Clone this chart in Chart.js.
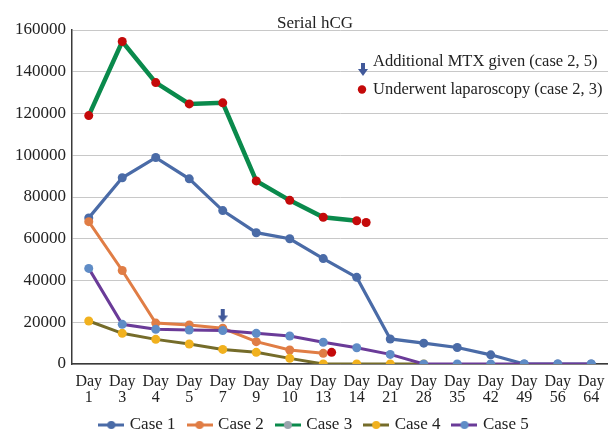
<!DOCTYPE html>
<html>
<head>
<meta charset="utf-8">
<script src="https://cdn.jsdelivr.net/npm/chart.js@4/dist/chart.umd.min.js"></script>
<style>
  html, body { margin: 0; padding: 0; background: #ffffff; }
  #c { display: block; }
</style>
</head>
<body>
<canvas id="c" width="608" height="432"></canvas>
<script>
// ---- data ----
const days = ["1","3","4","5","7","9","10","13","14","21","28","35","42","49","56","64"];
const case1 = [70000, 89200, 98900, 88700, 73500, 62900, 60000, 50500, 41500, 12000, 10000, 7900, 4400, 0, 0, 0];
const case2 = [68200, 44800, 19600, 18700, 17100, 10700, 6700, 5100, null, null, null, null, null, null, null, null];
const case3 = [119000, 154500, 134800, 124600, 125100, 87700, 78400, 70300, 68600, null, null, null, null, null, null, null];
const case4 = [20600, 14700, 11800, 9600, 7000, 5600, 2700, 0, 0, 0, 0, null, null, null, null, null];
const case5 = [45800, 19000, 16600, 16300, 16000, 14700, 13400, 10400, 7800, 4600, 0, 0, 0, 0, 0, 0];
const seriesNames = ["Case 1", "Case 2", "Case 3", "Case 4", "Case 5"];
// event markers (x = category index position)
const mtxX = [4];
const mtxY = [23000];
const lapX = [7.25, 8.28];
const lapY = [5600, 67800];
const yTicks = [0, 20000, 40000, 60000, 80000, 100000, 120000, 140000, 160000];
const titleText = "Serial hCG";
const noteMtx = "Additional MTX given (case 2, 5)";
const noteLap = "Underwent laparoscopy (case 2, 3)";

// ---- styles ----
const FONT = "'Liberation Serif', 'Times New Roman', serif";
const lineColors = ["#4a6ba7", "#e07d45", "#0a8a4c", "#756c2a", "#6a3b98"];
const markColors = ["#4a6ba7", "#e07d45", "#c40a0a", "#f1b11e", "#5f8cc6"];
const legendMarks = ["#4a6ba7", "#e07d45", "#9aa3ad", "#f1b11e", "#5f8cc6"];
const lineWidths = [3.2, 3, 4.5, 3, 3];
const arrowColor = "#41599a";
const redDot = "#c40a0a";

function makeArrow() {
  const c = document.createElement('canvas');
  c.width = 10; c.height = 13;
  const g = c.getContext('2d');
  g.fillStyle = arrowColor;
  g.fillRect(3, 0, 4, 7);
  g.beginPath(); g.moveTo(0, 6); g.lineTo(10, 6); g.lineTo(5, 13); g.closePath(); g.fill();
  return c;
}
const arrowImg = makeArrow();

function makeLegendIcon(lineCol, markCol) {
  const c = document.createElement('canvas');
  c.width = 26; c.height = 12;
  const g = c.getContext('2d');
  g.strokeStyle = lineCol; g.lineWidth = 3;
  g.beginPath(); g.moveTo(0, 6); g.lineTo(26, 6); g.stroke();
  g.fillStyle = markCol;
  g.beginPath(); g.arc(13, 6, 4, 0, Math.PI * 2); g.fill();
  return c;
}
const legendIcons = seriesNames.map((n, i) => makeLegendIcon(lineColors[i], legendMarks[i]));

const caseData = [case1, case2, case3, case4, case5];
const datasets = caseData.map((d, i) => ({
  label: seriesNames[i],
  data: d,
  borderColor: lineColors[i],
  backgroundColor: markColors[i],
  pointBackgroundColor: markColors[i],
  pointBorderColor: markColors[i],
  borderWidth: lineWidths[i],
  pointRadius: 4.5,
  pointBorderWidth: 0,
  tension: 0,
  spanGaps: false,
  order: 10 - i,
  xAxisID: 'x',
  yAxisID: 'y'
}));
datasets.push({
  type: 'scatter',
  label: 'Additional MTX given',
  data: mtxX.map((x, i) => ({x: x, y: mtxY[i]})),
  pointStyle: arrowImg,
  pointRadius: 6,
  showLine: false,
  xAxisID: 'x2',
  yAxisID: 'y',
  order: 0
});
datasets.push({
  type: 'scatter',
  label: 'Underwent laparoscopy',
  data: lapX.map((x, i) => ({x: x, y: lapY[i]})),
  pointBackgroundColor: redDot,
  pointBorderColor: redDot,
  backgroundColor: redDot,
  pointRadius: 4.5,
  pointBorderWidth: 0,
  showLine: false,
  xAxisID: 'x2',
  yAxisID: 'y',
  order: 0
});

const notesPlugin = {
  id: 'notes',
  afterLayout(chart) {
    // let the y tick labels use the space left of the axis box
    chart.scales.y.left = 0;
  },
  afterDraw(chart) {
    const ctx = chart.ctx;
    ctx.save();
    ctx.font = "16.5px " + FONT;
    ctx.fillStyle = "#222222";
    ctx.textBaseline = 'alphabetic';
    ctx.textAlign = 'left';
    ctx.drawImage(arrowImg, 358, 63);
    ctx.fillText(noteMtx, 373, 66);
    ctx.fillStyle = redDot;
    ctx.beginPath(); ctx.arc(362, 89.5, 4.2, 0, Math.PI * 2); ctx.fill();
    ctx.fillStyle = "#222222";
    ctx.fillText(noteLap, 373, 94);
    ctx.restore();
  }
};

new Chart(document.getElementById('c'), {
  type: 'line',
  data: {
    labels: days.map(d => ["Day", d]),
    datasets: datasets
  },
  options: {
    responsive: false,
    animation: false,
    layout: { autoPadding: false, padding: { left: 22, right: 0, top: 0, bottom: -11.5 } },
    plugins: {
      title: {
        display: true,
        text: titleText,
        color: '#222222',
        font: { family: FONT, size: 17, weight: 'normal' },
        padding: { top: 13, bottom: -3.4 }
      },
      legend: {
        display: true,
        position: 'bottom',
        labels: {
          usePointStyle: true,
          pointStyleWidth: 20,
          padding: 14,
          color: '#222222',
          font: { family: FONT, size: 17 },
          generateLabels(chart) {
            return seriesNames.map((n, i) => ({
              text: n,
              pointStyle: legendIcons[i],
              fillStyle: markColors[i],
              strokeStyle: lineColors[i],
              lineWidth: 0,
              hidden: false,
              datasetIndex: i,
              fontColor: '#222222'
            }));
          }
        }
      },
      tooltip: { enabled: false }
    },
    scales: {
      x: {
        type: 'category',
        offset: true,
        grid: { display: false, drawTicks: false },
        border: { display: true, color: '#3a3a3a', width: 1.5 },
        ticks: {
          color: '#222222',
          font: { family: FONT, size: 16, lineHeight: 1.0 },
          padding: 10,
          maxRotation: 0,
          autoSkip: false
        },
        afterFit(scale) { scale.height = 38.5; scale.paddingLeft = 0; scale.paddingRight = 0; }
      },
      x2: {
        type: 'linear',
        display: false,
        min: -0.5,
        max: days.length - 0.5
      },
      y: {
        min: 0,
        max: 160000,
        afterBuildTicks(scale) { scale.ticks = yTicks.map(v => ({value: v})); },
        grid: { color: '#c8c8c8', lineWidth: 1, drawTicks: false },
        border: { display: true, color: '#3a3a3a', width: 1.5 },
        ticks: {
          color: '#222222',
          font: { family: FONT, size: 17 },
          padding: 6,
          callback: (v) => String(v)
        },
        afterFit(scale) { scale.width = 50; scale.paddingTop = 0; scale.paddingBottom = 0; }
      }
    }
  },
  plugins: [notesPlugin]
});
</script>
</body>
</html>
